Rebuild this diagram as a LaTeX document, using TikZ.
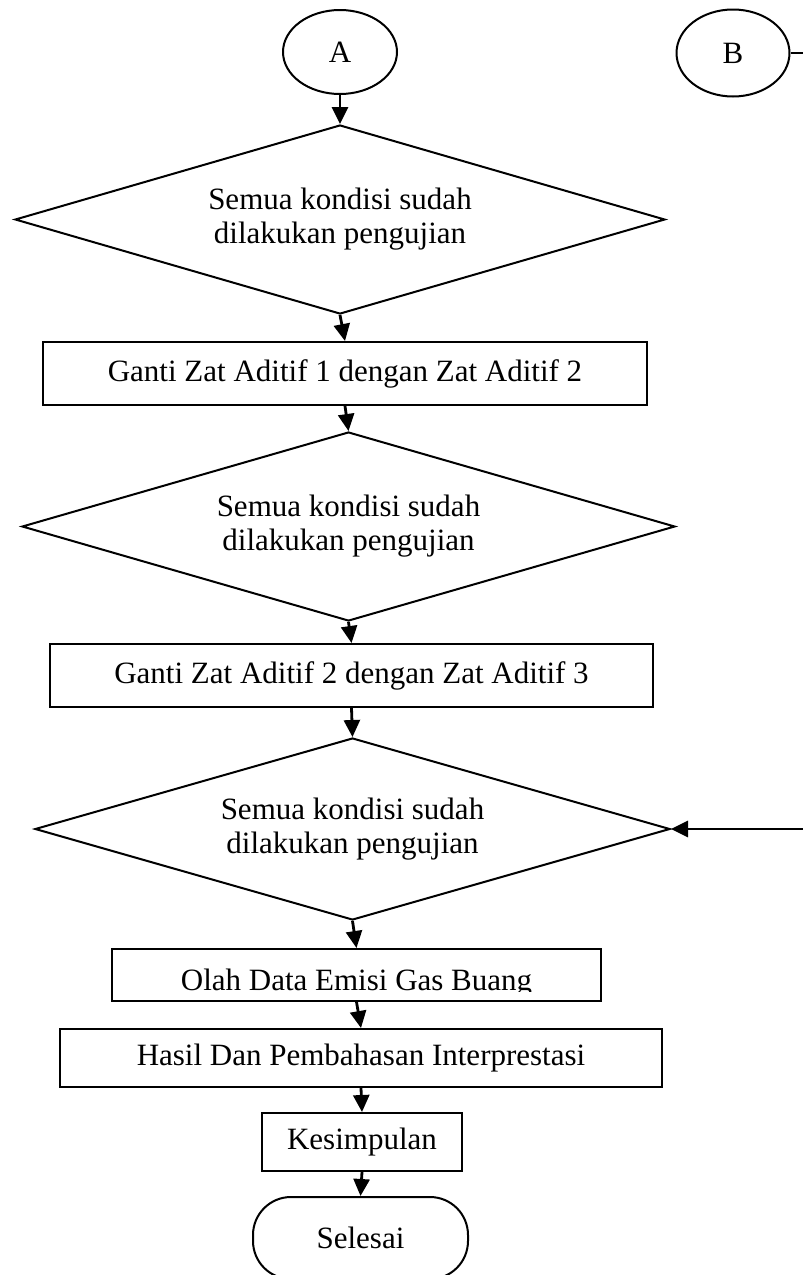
\documentclass[tikz,border=0pt]{standalone}
\usepackage{fontspec}
\setmainfont{Liberation Serif}
\usetikzlibrary{shapes.geometric,arrows.meta}
\tikzset{
  keputusan/.style={draw,diamond,aspect=3.4,inner sep=0pt,line width=2pt,align=center},
  proses/.style={draw,rectangle,inner sep=0pt,line width=2pt},
  konektor/.style={draw,ellipse,inner sep=0pt,line width=2pt},
  terminal/.style={draw,rectangle,rounded corners=38pt,inner sep=0pt,line width=2pt},
  panah/.style={line width=2.8pt,-{Triangle[length=17pt,width=16pt]}}
}

\begin{document}
\begin{tikzpicture}[x=1pt,y=-1pt,font=\fontsize{31}{34}\selectfont]
\useasboundingbox (0,0) rectangle (803,1275);
\clip (0,0) rectangle (803,1275);
\node[konektor,minimum width=114pt,minimum height=84pt] (A) at (340,52) {A};
\node[konektor,minimum width=113pt,minimum height=87pt] (B) at (733,53) {B};
\coordinate (Bkanan) at (803,53);
\node[keputusan,minimum width=650pt,minimum height=189pt] (uji1) at (340,219.5) {Semua kondisi sudah\\dilakukan pengujian};
\node[proses,minimum width=604pt,minimum height=63pt] (ganti1) at (345,373.5) {Ganti Zat Aditif 1 dengan Zat Aditif 2};
\node[keputusan,minimum width=653pt,minimum height=189pt] (uji2) at (348.5,526.5) {Semua kondisi sudah\\dilakukan pengujian};
\node[proses,minimum width=603pt,minimum height=63pt] (ganti2) at (351.5,675.5) {Ganti Zat Aditif 2 dengan Zat Aditif 3};
\node[keputusan,minimum width=635pt,minimum height=182pt] (uji3) at (352.5,829) {Semua kondisi sudah\\dilakukan pengujian};
\coordinate (masukB) at (803,829);
\node[proses,minimum width=489pt,minimum height=52pt] (olah) at (356.5,975) {};
\begin{scope}
\clip (112,949) rectangle (601,991);
\node[anchor=base] (olahteks) at (356.5,990) {Olah Data Emisi Gas Buang};
\end{scope}
\node[proses,minimum width=602pt,minimum height=58pt] (hasil) at (361,1058) {Hasil Dan Pembahasan Interprestasi};
\node[proses,minimum width=200pt,minimum height=58pt] (simpul) at (362,1142) {Kesimpulan};
\node[terminal,minimum width=215pt,minimum height=82pt] (selesai) at (360.5,1238) {Selesai};

\draw[line width=2pt] (B.east) -- (Bkanan);
\draw[panah] (A.south) -- (uji1.north);
\draw[panah] (uji1.south) -- (ganti1.north);
\draw[panah] (ganti1.south) -- (uji2.north);
\draw[panah] (uji2.south) -- (ganti2.north);
\draw[panah] (ganti2.south) -- (uji3.north);
\draw[panah] (masukB) -- (uji3.east);
\draw[panah] (uji3.south) -- (olah.north);
\draw[panah] (olah.south) -- (hasil.north);
\draw[panah] (hasil.south) -- (simpul.north);
\draw[panah] (simpul.south) -- (selesai.north);
\end{tikzpicture}
\end{document}
